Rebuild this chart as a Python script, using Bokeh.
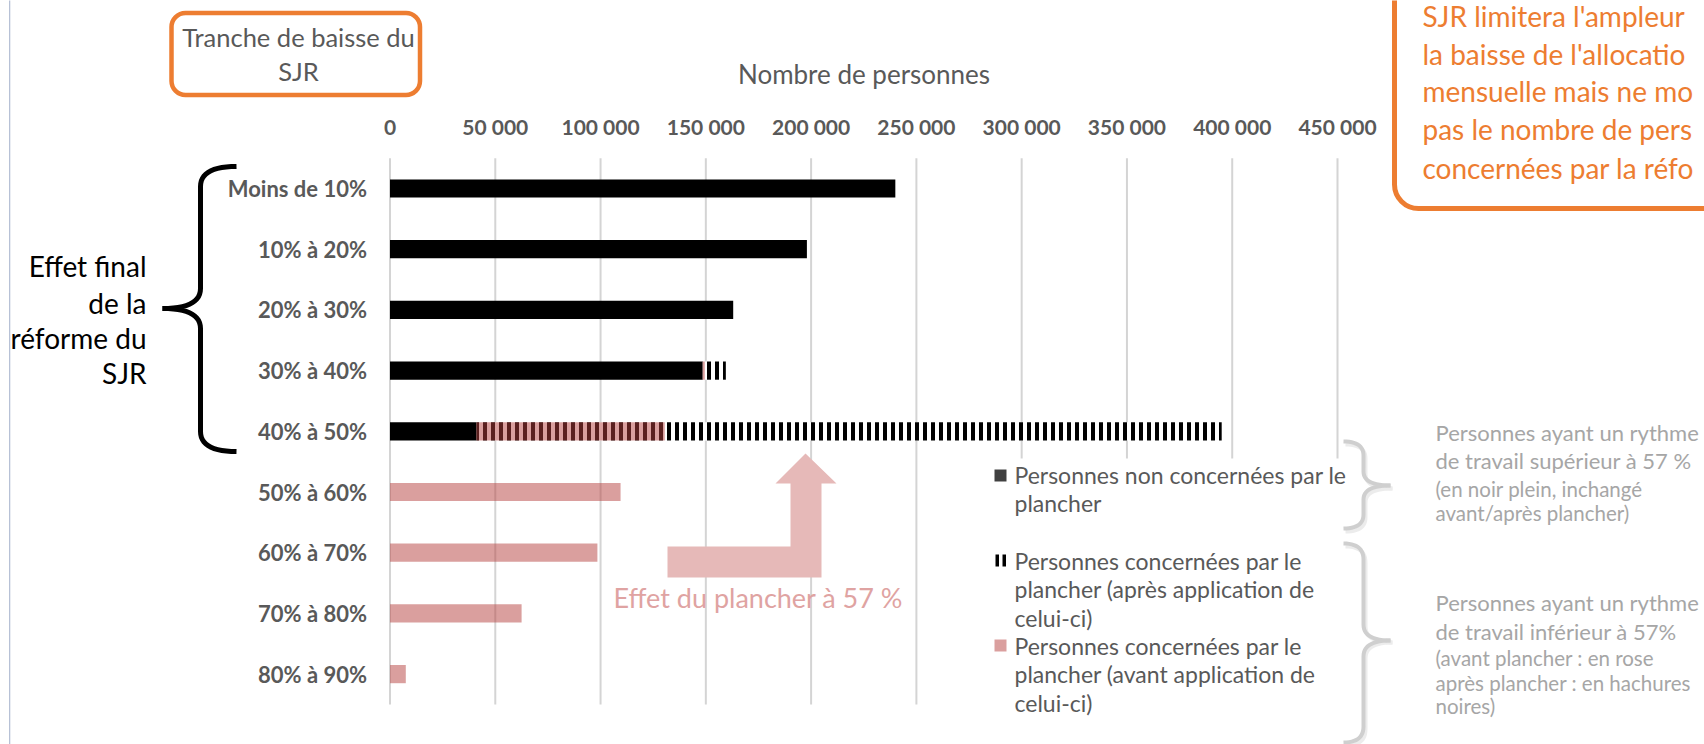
import numpy as np
from bokeh.plotting import figure
from bokeh.models import (Range1d, FixedTicker, Label, BoxAnnotation, LinearAxis,
                          PolyAnnotation, ColumnDataSource)
from bokeh.embed import file_html
from bokeh.resources import INLINE

# ---------------- data ----------------
categories = ["Moins de 10%", "10% à 20%", "20% à 30%", "30% à 40%", "40% à 50%",
              "50% à 60%", "60% à 70%", "70% à 80%", "80% à 90%"]
non_concernees = [240000, 198000, 163000, 148500, 41000, 0, 0, 0, 0]
apres_plancher = [0, 0, 0, 11000, 354000, 0, 0, 0, 0]
avant_plancher = [0, 0, 0, 1000, 89500, 109500, 98500, 62500, 7500]
x_ticks = [0, 50000, 100000, 150000, 200000, 250000, 300000, 350000, 400000, 450000]
x_tick_labels = ["0", "50 000", "100 000", "150 000", "200 000", "250 000",
                 "300 000", "350 000", "400 000", "450 000"]

legend_labels = [
    ["Personnes non concernées par le", "plancher"],
    ["Personnes concernées par le", "plancher (après application de", "celui-ci)"],
    ["Personnes concernées par le", "plancher (avant application de", "celui-ci)"],
]

FONT = "Lato"
GREY = "#595959"
LIGHT = "#a6a6a6"
ORANGE = "#ED7D31"
PINK_BASE = "#B5403D"
PINK_SOLID = "#DA9F9E"

W, H = 1704, 744
# layout geometry (pixels)
X0_PX, X_SPAN_PX = 389.5, 947.5        # where 0 and the 450 000 span lie
ROW0_PX, PITCH_PX = 188.0, 60.7        # centre of first category row, row pitch
K = (x_ticks[-1] - x_ticks[0]) / X_SPAN_PX

non = np.array(non_concernees, float)
apres = np.array(apres_plancher, float)
avant = np.array(avant_plancher, float)
pos = np.arange(len(categories), dtype=float)

src = ColumnDataSource(dict(pos=pos, zero=np.zeros(len(non)), non=non,
                            apres_end=non + apres, avant_end=non + avant))

p = figure(width=W, height=H, title=None,
           x_range=Range1d(-X0_PX * K, (W - X0_PX) * K),
           y_range=Range1d((H - ROW0_PX) / PITCH_PX, -ROW0_PX / PITCH_PX),
           x_axis_location=None, y_axis_location=None,
           output_backend="svg", toolbar_location=None, min_border=0)
p.outline_line_color = None
p.background_fill_color = "white"
p.border_fill_color = "white"
p.xgrid.visible = False
p.ygrid.visible = False

# grid lines (only across the category band)
n_t = len(x_ticks)
p.segment(x0=x_ticks, x1=x_ticks, y0=[pos[0] - 0.5] * n_t, y1=[pos[-1] + 0.5] * n_t,
          line_color="#d4d4d4", line_width=2, level="underlay")

# bars
p.hbar(y="pos", left="zero", right="non", height=0.3, fill_color="black",
       line_color=None, source=src)
p.hbar(y="pos", left="non", right="apres_end", height=0.3, fill_color="white",
       hatch_pattern="vertical_line", hatch_color="black", hatch_weight=4, hatch_scale=8,
       line_color=None, source=src)
p.hbar(y="pos", left="non", right="avant_end", height=0.3, fill_color=PINK_BASE,
       fill_alpha=0.5, line_color=None, source=src)

# axes (fixed in place, inside the full-canvas frame)
xa = LinearAxis(fixed_location=pos[0] - 0.5, ticker=FixedTicker(ticks=x_ticks),
                bounds=(x_ticks[0], x_ticks[-1]))
xa.major_label_overrides = {t: l for t, l in zip(x_ticks, x_tick_labels)}
xa.axis_line_color = None
xa.major_tick_line_color = None
xa.minor_tick_line_color = None
xa.major_tick_in = 0
xa.major_tick_out = 0
xa.major_label_standoff = 19
xa.major_label_text_font = FONT
xa.major_label_text_font_style = "bold"
xa.major_label_text_font_size = "21px"
xa.major_label_text_color = GREY
xa.axis_label = "Nombre de personnes"
xa.axis_label_text_font = FONT
xa.axis_label_text_font_style = "normal"
xa.axis_label_text_font_size = "26px"
xa.axis_label_text_color = GREY
xa.axis_label_standoff = 22
p.add_layout(xa, "above")

ya = LinearAxis(fixed_location=0, ticker=FixedTicker(ticks=list(pos)))
ya.major_label_overrides = {float(i): c for i, c in zip(pos, categories)}
ya.axis_line_color = None
ya.major_tick_line_color = None
ya.minor_tick_line_color = None
ya.major_tick_in = 0
ya.major_tick_out = 0
ya.major_label_standoff = 23
ya.major_label_text_font = FONT
ya.major_label_text_font_style = "bold"
ya.major_label_text_font_size = "22px"
ya.major_label_text_color = GREY
p.add_layout(ya, "left")


# ---------- helpers: image pixel position -> screen units ----------
def sx(X):
    return X


def sy(Y):
    return H - Y


def text(X, Y, t, size, color, align="left", style="normal"):
    p.add_layout(Label(x=sx(X), y=sy(Y), x_units="screen", y_units="screen", text=t,
                       text_font=FONT, text_font_size=size, text_color=color,
                       text_align=align, text_baseline="middle", text_font_style=style))


def box(X0, X1, Y0, Y1, fill_color=None, fill_alpha=1.0, line_color=None, line_width=1,
        border_radius=0):
    p.add_layout(BoxAnnotation(left=sx(X0), right=sx(X1), top=sy(Y0), bottom=sy(Y1),
                               left_units="screen", right_units="screen",
                               top_units="screen", bottom_units="screen",
                               fill_color=fill_color, fill_alpha=fill_alpha,
                               line_color=line_color, line_alpha=1.0, line_width=line_width,
                               border_radius=border_radius))


def poly(pts, color):
    xs = [sx(a) for a, b in pts]
    ys = [sy(b) for a, b in pts]
    p.add_layout(PolyAnnotation(xs=xs, ys=ys, xs_units="screen", ys_units="screen",
                                fill_color=color, fill_alpha=1.0, line_color=None))


def brace(x_end, x_spine, x_tip, y_top, y_mid, y_bot, r, w, color, n=14):
    def qb(p0, p1, p2):
        t = np.linspace(0, 1, n)
        return np.column_stack([(1 - t) ** 2 * p0[0] + 2 * (1 - t) * t * p1[0] + t ** 2 * p2[0],
                                (1 - t) ** 2 * p0[1] + 2 * (1 - t) * t * p1[1] + t ** 2 * p2[1]])
    upper = np.vstack([qb((x_end, y_top), (x_spine, y_top), (x_spine, y_top + r)),
                       qb((x_spine, y_mid - r), (x_spine, y_mid), (x_tip, y_mid))])
    lower = np.vstack([qb((x_tip, y_mid), (x_spine, y_mid), (x_spine, y_mid + r)),
                       qb((x_spine, y_bot - r), (x_spine, y_bot), (x_end, y_bot))])
    for c in (upper, lower):
        d = np.gradient(c, axis=0)
        nrm = np.column_stack([-d[:, 1], d[:, 0]])
        nrm /= np.maximum(np.linalg.norm(nrm, axis=1, keepdims=True), 1e-9)
        a = c + nrm * w / 2
        b = c - nrm * w / 2
        poly(list(map(tuple, a)) + list(map(tuple, b[::-1])), color)


# ---------- page border line ----------
box(8.5, 9.8, -10, H + 10, fill_color="#b7c1d6")

# ---------- "Tranche de baisse du SJR" box ----------
box(171, 419.5, 12.5, 94.5, fill_color="white", fill_alpha=0, line_color=ORANGE,
    line_width=4.5, border_radius=14)
text(298, 36, "Tranche de baisse du", "25.5px", GREY, align="center")
text(298, 70, "SJR", "25.5px", GREY, align="center")

# ---------- orange note box (top right) ----------
box(1394, 1900, -60, 208, fill_color="white", fill_alpha=0, line_color=ORANGE,
    line_width=5, border_radius=24)
for yy, t in zip([15, 53, 90, 128, 167],
                 ["SJR limitera l'ampleur", "la baisse de l'allocatio", "mensuelle mais ne mo",
                  "pas le nombre de pers", "concernées par la réfo"]):
    text(1422, yy, t, "28px", ORANGE)

# ---------- left annotation ----------
for yy, t in zip([265, 302, 337, 372], ["Effet final", "de la", "réforme du", "SJR"]):
    text(146, yy, t, "28px", "black", align="right")
brace(236, 200, 162, 166, 308, 451, 20, 5, "black")

# ---------- pink arrow ----------
poly([(667, 546), (790, 546), (790, 483), (775, 483), (805, 453), (836, 483),
      (821, 483), (821, 577), (667, 577)], "#E6B9B8")
text(613, 597, "Effet du plancher à 57 %", "27px", "#DFA3A2")

# ---------- legend ----------
box(985, 1342, 458, H + 10, fill_color="white")
box(994, 1006, 469, 481, fill_color="#404040")
box(995, 998.5, 554, 566, fill_color="black")
box(1002, 1005.5, 554, 566, fill_color="black")
box(994, 1006, 639, 651, fill_color=PINK_SOLID)
for y0, lines in zip([474, 560, 645], legend_labels):
    for k, t in enumerate(lines):
        text(1014, y0 + 28.7 * k, t, "23px", GREY)

# ---------- right braces & notes ----------
brace(1345, 1365, 1392, 444, 488, 531, 14, 4, "#ececec")
brace(1343, 1363, 1390, 441, 485, 528, 14, 4, "#cfcfcf")
brace(1345, 1365, 1392, 546, 642, 745, 16, 4, "#ececec")
brace(1343, 1363, 1390, 543, 640, 742, 16, 4, "#cfcfcf")

text(1435, 432, "Personnes ayant un rythme", "22px", LIGHT)
text(1435, 460, "de travail supérieur à 57 %", "22px", LIGHT)
text(1435, 488, "(en noir plein, inchangé", "20.5px", LIGHT)
text(1435, 512, "avant/après plancher)", "20.5px", LIGHT)

text(1435, 602, "Personnes ayant un rythme", "22px", LIGHT)
text(1435, 631, "de travail inférieur à 57%", "22px", LIGHT)
text(1435, 657, "(avant plancher : en rose", "20.5px", LIGHT)
text(1435, 682, "après plancher : en hachures", "20.5px", LIGHT)
text(1435, 705, "noires)", "20.5px", LIGHT)

open("out.html", "w").write(file_html(p, INLINE))
